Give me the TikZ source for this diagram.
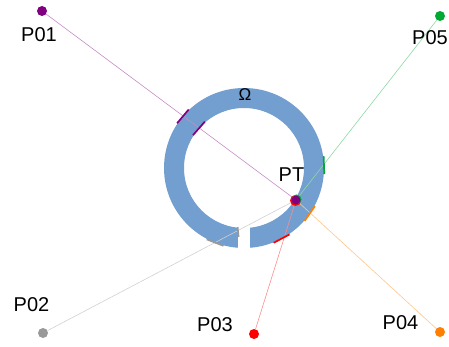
\documentclass[tikz,border=0pt]{standalone}
\usepackage{fontspec}
\setmainfont{Liberation Sans}
\usepackage{xcolor}
\usetikzlibrary{calc,positioning}

\definecolor{ringblue}{HTML}{729FCF}
\definecolor{ptpurple}{HTML}{800080}
\definecolor{ptgray}{HTML}{999999}
\definecolor{ptred}{HTML}{FF0000}
\definecolor{ptorange}{HTML}{FF8000}
\definecolor{ptgreen}{HTML}{00A933}

\tikzset{
    dot/.style={circle, fill=#1, inner sep=0pt, minimum size=10pt},
    ray/.style={line width=0.6pt, #1!45},
    tickmark/.style={line width=1.7pt, #1},
    plabel/.style={font=\fontsize{20}{24}\selectfont, inner sep=0pt}
}

\begin{document}
\begin{tikzpicture}[x=1pt,y=-1pt]
    \useasboundingbox (0,0) rectangle (449,347);
    \coordinate (O) at (244,168);

    % domain ring with cut at the bottom
    \fill[ringblue, even odd rule] (O) circle (80pt) (O) circle (60pt);
    \fill[white] (238,220) rectangle (250,256);
    \node[font=\fontsize{17}{20}\selectfont, inner sep=0pt] (omega) at (245,95) {Ω};

    % points
    \node[dot=ptpurple] (p01) at (42,11) {};
    \node[dot=ptgreen] (p05) at (440,16) {};
    \node[dot=ptgray] (p02) at (43,333) {};
    \node[dot=ptred] (p03) at (254,334) {};
    \node[dot=ptorange] (p04) at (440,332) {};
    \coordinate (pt) at (296,200);

    % rays to PT
    \draw[ray=ptpurple] (p01) -- (pt);
    \draw[ray=ptgreen] (p05) -- (pt);
    \draw[ray=ptgray] (p02) -- (pt);
    \draw[ray=ptred] (p03) -- (pt);
    \draw[ray=ptorange] (p04) -- (pt);

    % crossings with the boundary
    \foreach \a/\r/\c in {220.2/80/ptpurple, 221.3/60/ptpurple, 357.9/80/ptgreen,
                          34.7/80/ptorange, 62/80/ptred, 111.2/80/ptgray}
        \draw[tickmark=\c] ($(O)+(\a:\r)+(\a+90:9)$) -- ($(O)+(\a:\r)+(\a-90:9)$);
    \draw[tickmark=ptgray] (237.6,227) -- (238.6,237);

    % PT
    \node[dot=ptred, minimum size=11pt] (ptrim) at (295.5,200.5) {};
    \node[dot=ptgreen, minimum size=10pt] (ptrim2) at (296.5,199.5) {};
    \node[dot=ptpurple, minimum size=9pt] (ptdot) at (pt) {};

    % labels
    \node[plabel] (l01) at (39,35) {P01};
    \node[plabel] (l05) at (430,38) {P05};
    \node[plabel] (l02) at (31.5,304.5) {P02};
    \node[plabel] (l03) at (215,325) {P03};
    \node[plabel] (l04) at (400.5,322.5) {P04};
    \node[plabel] (lpt) at (291.5,175) {PT};
\end{tikzpicture}
\end{document}
